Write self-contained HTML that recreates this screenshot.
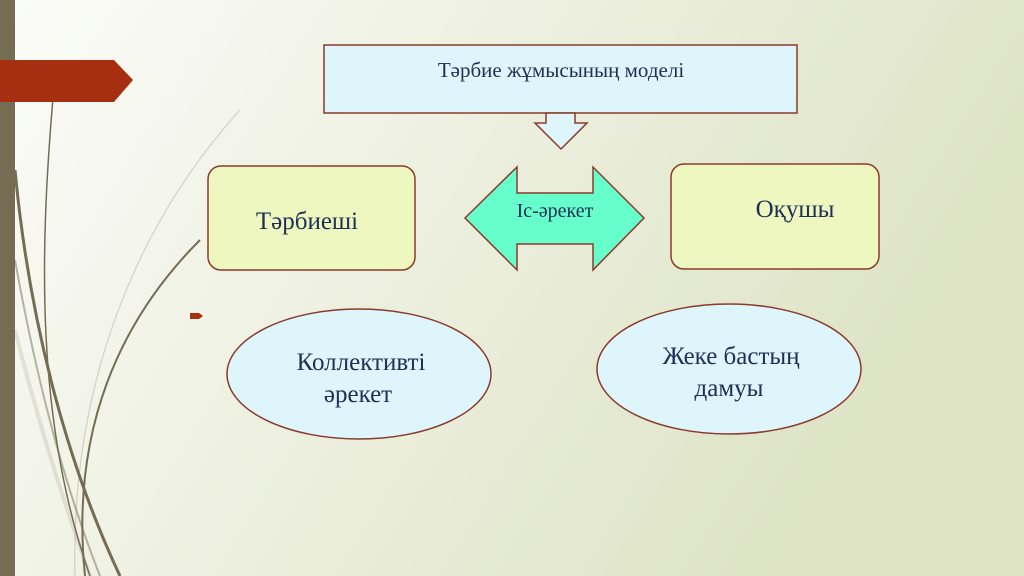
<!DOCTYPE html>
<html><head><meta charset="utf-8"><style>
html,body{margin:0;padding:0;width:1024px;height:576px;overflow:hidden}
text{font-family:"Liberation Serif",serif;fill:#1f2f55}
</style></head><body>
<svg width="1024" height="576" viewBox="0 0 1024 576" xmlns="http://www.w3.org/2000/svg">
<defs>
<linearGradient id="bg" x1="0" y1="0" x2="1" y2="0.35">
<stop offset="0" stop-color="#fbfcf8"/>
<stop offset="0.35" stop-color="#f1f3e6"/>
<stop offset="1" stop-color="#dde3c4"/>
</linearGradient>
</defs>
<rect width="1024" height="576" fill="url(#bg)"/>
<rect x="0" y="0" width="15" height="576" fill="#756c54"/>
<g fill="none" stroke="#756c54">
<path d="M53 98 C40 250 35 420 90 576" stroke-width="1.5"/>
<path d="M15 170 C30 330 70 470 120 576" stroke-width="3"/>
<path d="M200 240 C120 320 70 430 85 576" stroke-width="2"/>
<path d="M15 260 C40 400 70 500 100 576" stroke-width="2" stroke-opacity="0.5"/>
<path d="M240 110 C140 220 70 380 75 576" stroke-width="1.2" stroke-opacity="0.25"/>
<path d="M15 330 C40 430 70 520 90 576" stroke-width="4" stroke-opacity="0.15"/>
</g>
<polygon points="0,60 114,60 133,80 114,102 0,102" fill="#a52f10"/>
<polygon points="190,313 199,313 203,316 199,319 190,319" fill="#a52f10"/>
<rect x="324" y="45" width="473" height="68" fill="#ddf5fb" stroke="#8b3a2a" stroke-width="1.5"/>
<text x="561" y="77" font-size="21" text-anchor="middle">Тәрбие жұмысының моделі</text>
<polygon points="546,113 575,113 575,123 587,123 561,149 535,123 546,123" fill="#ddf5fb" stroke="#8b3a2a" stroke-width="1.5"/>
<polygon points="465,218 517,167 517,193 593,193 593,167 644,218 593,270 593,244 517,244 517,270" fill="#66ffcc" stroke="#8b3a2a" stroke-width="1.5"/>
<text x="555" y="217" font-size="20" text-anchor="middle">Іс-әрекет</text>
<rect x="208" y="166" width="207" height="104" rx="13" fill="#edf7bf" stroke="#8b3a2a" stroke-width="1.5"/>
<text x="307" y="229" font-size="25" text-anchor="middle">Тәрбиеші</text>
<rect x="671" y="164" width="208" height="105" rx="13" fill="#edf7bf" stroke="#8b3a2a" stroke-width="1.5"/>
<text x="795" y="217" font-size="25" text-anchor="middle">Оқушы</text>
<ellipse cx="359" cy="374" rx="132" ry="65" fill="#ddf5fb" stroke="#8b3a2a" stroke-width="1.5"/>
<text x="361" y="370" font-size="25" text-anchor="middle">Коллективті</text>
<text x="358" y="402" font-size="25" text-anchor="middle">әрекет</text>
<ellipse cx="729" cy="369" rx="132" ry="65" fill="#ddf5fb" stroke="#8b3a2a" stroke-width="1.5"/>
<text x="731" y="364" font-size="25" text-anchor="middle">Жеке бастың</text>
<text x="729" y="396" font-size="25" text-anchor="middle">дамуы</text>
</svg>
</body></html>
